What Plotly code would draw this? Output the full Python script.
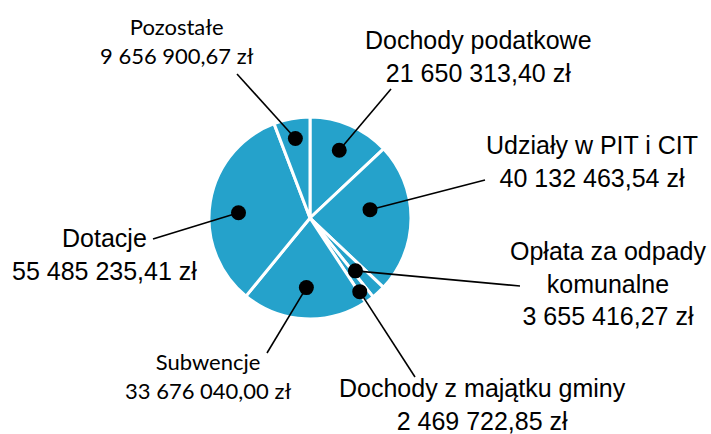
import math
import plotly.graph_objects as go

# ---------------- data ----------------
categories = [
    "Dochody podatkowe",
    "Udziały w PIT i CIT",
    "Opłata za odpady komunalne",
    "Dochody z majątku gminy",
    "Subwencje",
    "Dotacje",
    "Pozostałe",
]
values = [21650313.40, 40132463.54, 3655416.27, 2469722.85, 33676040.00, 55485235.41, 9656900.67]
label_titles = [
    "Dochody podatkowe",
    "Udziały w PIT i CIT",
    "Opłata za odpady<br>komunalne",
    "Dochody z majątku gminy",
    "Subwencje",
    "Dotacje",
    "Pozostałe",
]


def pln(v):
    s = f"{v:,.2f}".replace(",", " ").replace(".", ",")
    return s + " zł"


# ---------------- layout / style ----------------
W, H = 711, 434
CX, CY, R = 310, 218, 101
slice_color = "#25A2CB"

dot_radius_frac = [0.73, 0.60, 0.69, 0.88, 0.69, 0.71, 0.80]
dot_angle_shift = [0, -8, 2, 2, 0, -5, 0]
line_end = [(391, 89), (485, 180), (520, 286), (415, 377), (267, 353), (153, 239), (237, 74)]
text_pos = [(478, 56), (592, 161), (608, 283), (482, 404), (208, 376), (104, 254), (177, 41)]
ARIAL = "Liberation Sans, Arial, sans-serif"
CALIBRI = "Lato, Carlito, Calibri, sans-serif"
text_font = [ARIAL, ARIAL, ARIAL, ARIAL, CALIBRI, ARIAL, CALIBRI]
text_size = [25, 25, 25, 25, 22, 25, 22]

fig = go.Figure()

fig.add_trace(go.Pie(
    labels=categories,
    values=values,
    sort=False,
    direction="clockwise",
    rotation=0,
    marker=dict(colors=[slice_color] * len(values), line=dict(color="white", width=3)),
    textinfo="none",
    hoverinfo="label+value",
    showlegend=False,
    domain=dict(x=[(CX - R) / W, (CX + R) / W], y=[1 - (CY + R) / H, 1 - (CY - R) / H]),
))

# invisible trace to create pixel-scaled cartesian axes
fig.add_trace(go.Scatter(x=[0, W], y=[0, H], mode="markers", marker=dict(opacity=0),
                         hoverinfo="skip", showlegend=False))

total = sum(values)
cum = 0.0
shapes = []
annotations = []
for i, v in enumerate(values):
    start = cum / total * 360
    cum += v
    end = cum / total * 360
    mid = math.radians((start + end) / 2 + dot_angle_shift[i])
    r = R * dot_radius_frac[i]
    dx = CX + r * math.sin(mid)
    dy = CY - r * math.cos(mid)
    ex, ey = line_end[i]
    shapes.append(dict(type="line", xref="x", yref="y", x0=dx, y0=dy, x1=ex, y1=ey,
                       line=dict(color="black", width=1.6), layer="above"))
    shapes.append(dict(type="circle", xref="x", yref="y", x0=dx - 7.5, x1=dx + 7.5,
                       y0=dy - 7.5, y1=dy + 7.5, fillcolor="black",
                       line=dict(color="black", width=0), layer="above"))
    tx, ty = text_pos[i]
    annotations.append(dict(x=tx, y=ty, xref="x", yref="y", showarrow=False,
                            text=f"{label_titles[i]}<br>{pln(v)}", align="center",
                            xanchor="center", yanchor="middle",
                            font=dict(family=text_font[i], size=text_size[i], color="black")))

fig.update_layout(
    width=W, height=H,
    margin=dict(l=0, r=0, t=0, b=0, pad=0),
    paper_bgcolor="white", plot_bgcolor="rgba(0,0,0,0)",
    xaxis=dict(range=[0, W], visible=False, fixedrange=True, domain=[0, 1]),
    yaxis=dict(range=[H, 0], visible=False, fixedrange=True, domain=[0, 1]),
    shapes=shapes,
    annotations=annotations,
)

fig.write_html(
    "out.html",
    config={"displayModeBar": False},
    post_script="document.body.style.margin='0';document.body.style.overflow='hidden';",
)
